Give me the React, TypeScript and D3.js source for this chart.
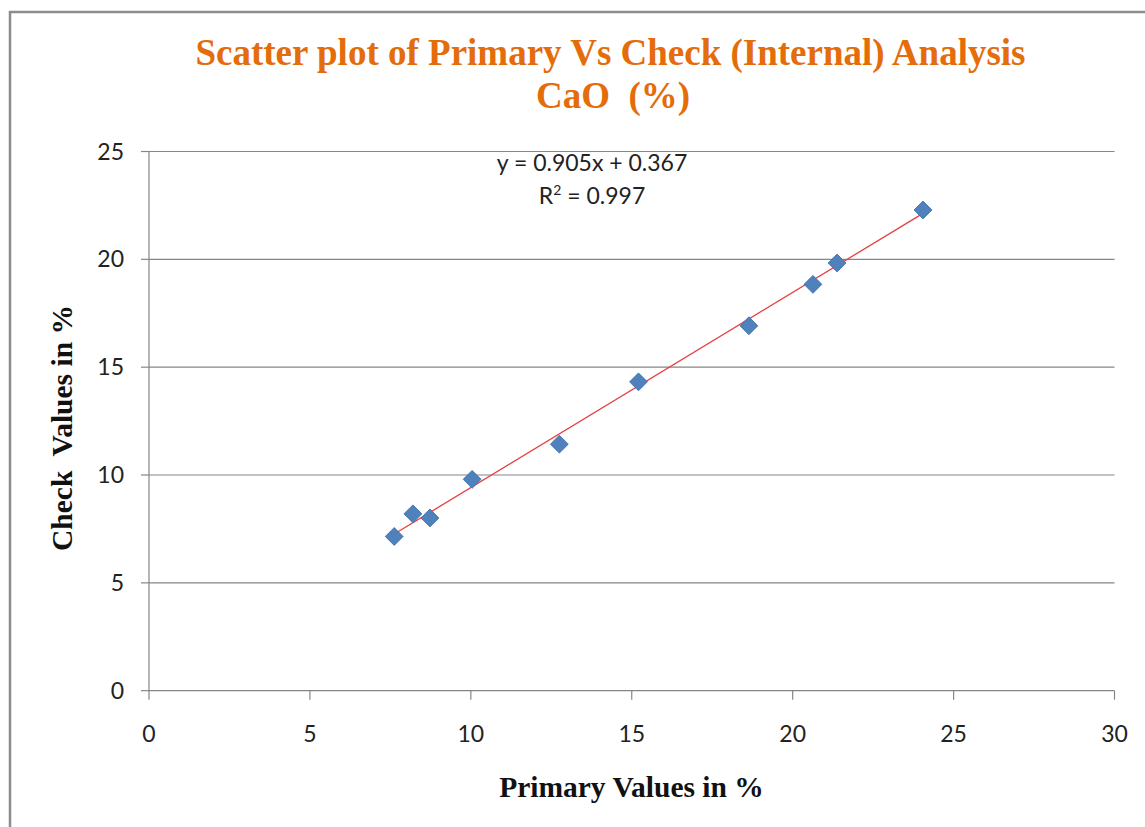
import { scaleLinear, symbol, symbolSquare, line } from 'd3';

// primary (x) vs check (y) values, CaO %
const primaryValues = [7.62, 8.2, 8.73, 10.04, 12.75, 15.21, 18.64, 20.63, 21.38, 24.05];
const checkValues = [7.15, 8.2, 8.01, 9.8, 11.43, 14.32, 16.92, 18.84, 19.83, 22.29];
const xTicks = [0, 5, 10, 15, 20, 25, 30];
const yTicks = [0, 5, 10, 15, 20, 25];
const slope = 0.905;
const intercept = 0.367;
const rSquared = 0.997;

const W = 1145;
const H = 827;
const left = 149;
const right = 1114.5;
const top = 151.5;
const bottom = 690.7;

function App() {
  const x = scaleLinear().domain([0, 30]).range([left, right]);
  const y = scaleLinear().domain([0, 25]).range([bottom, top]);
  // diamond = square turned 45deg
  const diamond = symbol().type(symbolSquare).size(160)();

  const xMin = Math.min(...primaryValues);
  const xMax = Math.max(...primaryValues);
  const trend = line<number>()
    .x(d => x(d))
    .y(d => y(slope * d + intercept))([xMin, xMax]);

  const tickFont = 'Lato, "Open Sans", sans-serif';
  const serif = '"Liberation Serif", "Times New Roman", serif';

  return (
    <svg width={W} height={H} style={{ position: 'absolute', left: 0, top: 0, background: '#fff' }}>
      <rect x={10} y={12} width={W + 20} height={H + 20} fill="#fff" stroke="#8c8c8c" strokeWidth={2.5} />

      <text x={610.5} y={65} textAnchor="middle" fontFamily={serif} fontWeight="bold" fontSize={37} fill="#E46C0A">
        Scatter plot of Primary Vs Check (Internal) Analysis
      </text>
      <text x={613} y={108} textAnchor="middle" fontFamily={serif} fontWeight="bold" fontSize={37} fill="#E46C0A" style={{ whiteSpace: 'pre' }}>
        {'CaO  (%)'}
      </text>

      {/* gridlines */}
      {yTicks.map(t => (
        <line key={'g' + t} x1={left} x2={right} y1={y(t)} y2={y(t)} stroke="#868686" strokeWidth={1.2} />
      ))}
      {yTicks.map(t => (
        <line key={'yt' + t} x1={left - 8} x2={left} y1={y(t)} y2={y(t)} stroke="#868686" strokeWidth={1.2} />
      ))}
      <line x1={left} x2={left} y1={top} y2={bottom} stroke="#868686" strokeWidth={1.2} />
      {xTicks.map(t => (
        <line key={'xt' + t} x1={x(t)} x2={x(t)} y1={bottom} y2={bottom + 9} stroke="#868686" strokeWidth={1.2} />
      ))}

      {yTicks.map(t => (
        <text key={'yl' + t} x={124} y={y(t) + 8} textAnchor="end" fontFamily={tickFont} fontSize={23} fill="#222">
          {t}
        </text>
      ))}
      {xTicks.map(t => (
        <text key={'xl' + t} x={x(t)} y={742} textAnchor="middle" fontFamily={tickFont} fontSize={23} fill="#222">
          {t}
        </text>
      ))}

      <path d={trend ?? ''} fill="none" stroke="#E5403F" strokeWidth={1.3} />

      {primaryValues.map((v, i) => (
        <path
          key={i}
          d={diamond}
          transform={`translate(${x(v)},${y(checkValues[i])}) rotate(45)`}
          fill="#4F81BD"
          stroke="#3F6EA8"
          strokeWidth={0.8}
        />
      ))}

      <text x={592} y={171} textAnchor="middle" fontFamily={tickFont} fontSize={23} fill="#222">
        {`y = ${slope}x + ${intercept}`}
      </text>
      <text x={592} y={204} textAnchor="middle" fontFamily={tickFont} fontSize={23} fill="#222">
        R<tspan fontSize={14} dy={-9}>2</tspan>
        <tspan dy={9}>{` = ${rSquared}`}</tspan>
      </text>

      <text
        transform={`translate(72,${428}) rotate(-90)`}
        textAnchor="middle"
        fontFamily={serif}
        fontWeight="bold"
        fontSize={29.5}
        fill="#111"
        style={{ whiteSpace: 'pre' }}
      >
        {'Check  Values in %'}
      </text>
      <text x={631.5} y={797} textAnchor="middle" fontFamily={serif} fontWeight="bold" fontSize={29.5} fill="#111">
        Primary Values in %
      </text>
    </svg>
  );
}

export default App;
